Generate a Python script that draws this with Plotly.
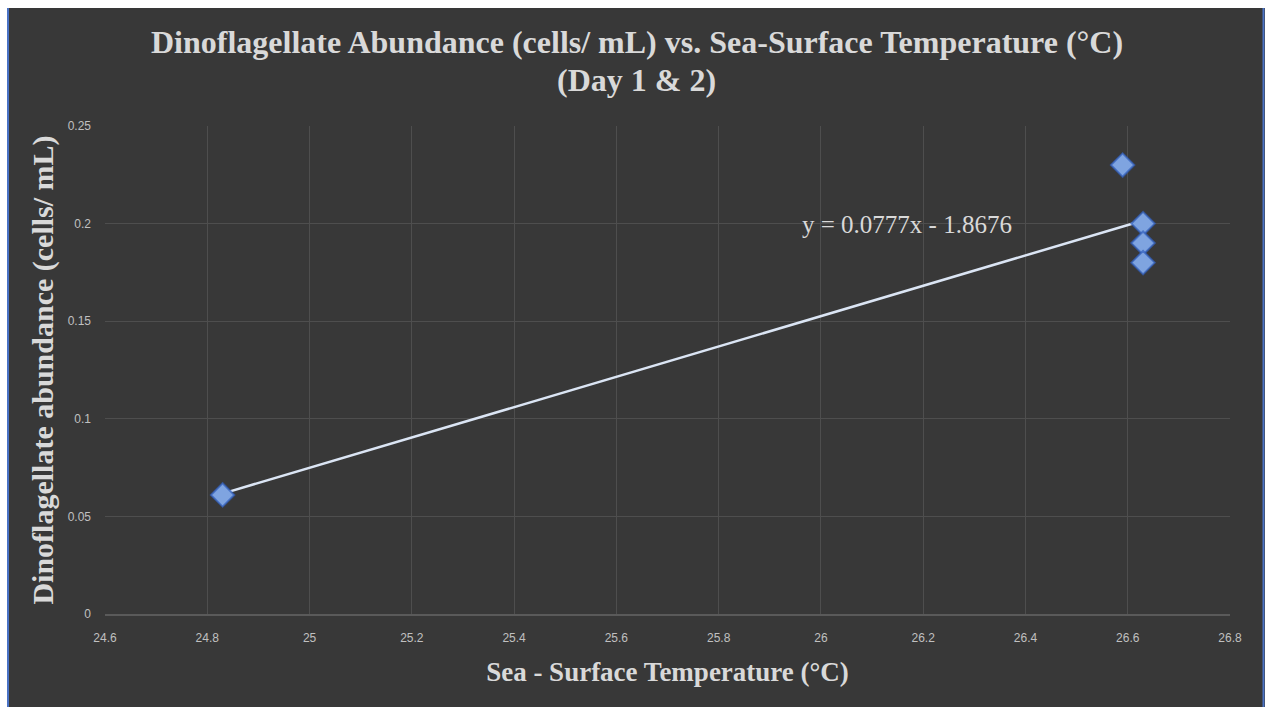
import plotly.graph_objects as go

# Data
temperature = [24.83, 26.59, 26.63, 26.63, 26.63]
abundance = [0.061, 0.23, 0.20, 0.19, 0.18]

# Trendline coefficients shown on chart
slope = 0.0777
intercept = -1.8676

x_ticks = [24.6, 24.8, 25.0, 25.2, 25.4, 25.6, 25.8, 26.0, 26.2, 26.4, 26.6, 26.8]
x_tick_text = ["24.6", "24.8", "25", "25.2", "25.4", "25.6", "25.8", "26", "26.2", "26.4", "26.6", "26.8"]
y_ticks = [0, 0.05, 0.1, 0.15, 0.2, 0.25]
y_tick_text = ["0", "0.05", "0.1", "0.15", "0.2", "0.25"]

title_line1 = "Dinoflagellate Abundance (cells/ mL) vs. Sea-Surface Temperature (°C)"
title_line2 = "(Day 1 &amp; 2)"

BG = "#383838"
GRID = "#4e4e4e"
TXT = "#d9d9d9"
TICK = "#c0c0c0"

xmin, xmax = min(temperature), max(temperature)
trend_x = [xmin, xmax]
trend_y = [slope * v + intercept for v in trend_x]

fig = go.Figure()
fig.add_trace(go.Scatter(
    x=trend_x, y=trend_y, mode="lines",
    line=dict(color="#dbe5f4", width=2.5),
    hoverinfo="skip", showlegend=False,
))
fig.add_trace(go.Scatter(
    x=temperature, y=abundance, mode="markers",
    marker=dict(symbol="diamond", size=18, color="#7fa4e0",
                line=dict(color="rgba(50,95,190,0.7)", width=2)),
    showlegend=False,
))

W, H = 1265, 707
L, R, T, B = 105, 35, 126, 93
pw, ph = W - L - R, H - T - B

def px_x(p):
    return (p - L) / pw

def px_y(p):
    return (H - B - p) / ph

# white page strips (top and left) and blue frame edges
fig.add_shape(type="rect", xref="paper", yref="paper",
              x0=px_x(-5), x1=px_x(W + 5), y0=px_y(8), y1=px_y(-5),
              fillcolor="white", line=dict(width=0), layer="above")
fig.add_shape(type="rect", xref="paper", yref="paper",
              x0=px_x(-5), x1=px_x(7), y0=px_y(H + 5), y1=px_y(-5),
              fillcolor="white", line=dict(width=0), layer="above")
for edge in (8, W - 1.5):
    fig.add_shape(type="line", xref="paper", yref="paper",
                  x0=px_x(edge), x1=px_x(edge), y0=px_y(H + 5), y1=px_y(8),
                  line=dict(color="#4a72c4", width=2), layer="above")

page_center = px_x(W / 2 + 4)
fig.add_annotation(
    text="<b>" + title_line1 + "</b>", x=page_center,
    xref="paper", y=px_y(42), yref="paper", xanchor="center", yanchor="middle",
    showarrow=False, font=dict(family="Liberation Serif", size=32, color=TXT),
)
fig.add_annotation(
    text="<b>" + title_line2 + "</b>", x=page_center,
    xref="paper", y=px_y(80), yref="paper", xanchor="center", yanchor="middle",
    showarrow=False, font=dict(family="Liberation Serif", size=32, color=TXT),
)

fig.add_annotation(
    text="y = 0.0777x - 1.8676", x=26.168, y=0.1995, xref="x", yref="y",
    showarrow=False, font=dict(family="Liberation Serif", size=25, color=TXT),
)

fig.update_layout(
    width=W, height=H,
    margin=dict(l=L, r=R, t=T, b=B),
    paper_bgcolor=BG,
    plot_bgcolor=BG,
    xaxis=dict(
        range=[24.6, 26.8], tickmode="array", tickvals=x_ticks, ticktext=x_tick_text,
        showgrid=True, gridcolor=GRID, gridwidth=1,
        showline=True, linecolor="#5a5a5a", linewidth=1.5, mirror=False,
        zeroline=False, ticks="", ticklabelstandoff=12,
        tickfont=dict(family="Liberation Sans", size=12, color=TICK),
        title=dict(text="<b>Sea - Surface Temperature (°C)</b>", standoff=18,
                   font=dict(family="Liberation Serif", size=27, color=TXT)),
    ),
    yaxis=dict(
        range=[0, 0.25], tickmode="array", tickvals=y_ticks, ticktext=y_tick_text,
        showgrid=True, gridcolor=GRID, gridwidth=1,
        showline=False, zeroline=False, ticks="", ticklabelstandoff=13,
        tickfont=dict(family="Liberation Sans", size=12, color=TICK),
        title=dict(text="<b>Dinoflagellate abundance (cells/ mL)</b>", standoff=5,
                   font=dict(family="Liberation Serif", size=30, color=TXT)),
    ),
)

fig.write_html(
    "out.html",
    config={"displayModeBar": False},
    post_script="document.body.style.margin='0';document.body.style.overflow='hidden';",
)
